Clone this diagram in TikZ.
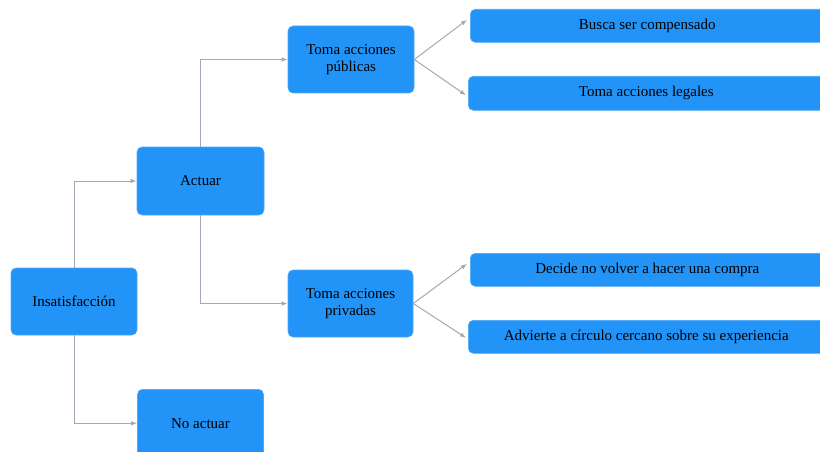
\documentclass[tikz,border=0pt]{standalone}
\usepackage{fontspec}
\setmainfont{Liberation Serif}
\usetikzlibrary{arrows.meta,calc}
\definecolor{boxblue}{RGB}{34,147,247}
\definecolor{linegray}{RGB}{160,170,182}
\begin{document}
\begin{tikzpicture}[x=1pt,y=-1pt,
  box/.style={fill=boxblue,draw=boxblue!80!white,line width=0.6pt,rounded corners=5pt,align=center,inner sep=0pt,font=\fontsize{15}{17}\selectfont},
  conn/.style={draw=linegray,line width=1pt,-{Latex[length=6pt,width=4.5pt]}}]
\useasboundingbox (0,0) rectangle (820,452);
\node[box,minimum width=126pt,minimum height=67pt] (ins) at (74,301.5) {Insatisfacción};
\node[box,minimum width=127pt,minimum height=68pt] (act) at (200.5,181) {Actuar};
\node[box,minimum width=126pt,minimum height=68pt,anchor=north] (noact) at (200.5,389) {No actuar};
\node[box,minimum width=126pt,minimum height=67pt] (pub) at (351,59.5) {Toma acciones\\públicas};
\node[box,minimum width=125pt,minimum height=67pt] (priv) at (350.5,303.5) {Toma acciones\\privadas};
\node[box,minimum width=354pt,minimum height=33pt,anchor=north west] (b1) at (470,9) {Busca ser compensado};
\node[box,minimum width=356pt,minimum height=34pt,anchor=north west] (b2) at (468,76) {Toma acciones legales};
\node[box,minimum width=354pt,minimum height=33pt,anchor=north west] (b3) at (470,253) {Decide no volver a hacer una compra};
\node[box,minimum width=356pt,minimum height=33pt,anchor=north west] (b4) at (468,320) {Advierte a círculo cercano sobre su experiencia};
\draw[conn] (ins.north) |- (act.west);
\draw[conn] (ins.south) |- (noact.west);
\draw[conn] (act.north) |- (pub.west);
\draw[conn] (act.south) |- (priv.west);
\draw[conn] (pub.east) -- ($(b1.west)+(-3,-6)$);
\draw[conn] (pub.east) -- ($(b2.west)+(-2,2)$);
\draw[conn] (priv.east) -- ($(b3.west)+(-3,-6)$);
\draw[conn] (priv.east) -- ($(b4.west)+(-2,1)$);
\end{tikzpicture}
\end{document}
